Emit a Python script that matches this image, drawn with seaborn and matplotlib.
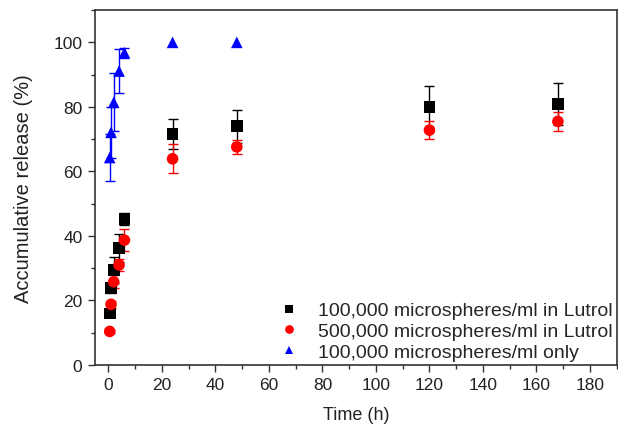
import numpy as np
import pandas as pd
import matplotlib
matplotlib.use("Agg")
import matplotlib.pyplot as plt
from matplotlib.ticker import MultipleLocator
import seaborn as sns

# Release data (time in hours, cumulative release in %, standard deviation)
time_lutrol = [0.5, 1, 2, 4, 6, 24, 48, 120, 168]
low_lutrol = [16.0, 23.8, 29.4, 36.3, 45.2, 71.6, 74.0, 80.0, 80.9]
low_lutrol_sd = [1.0, 1.5, 4.0, 4.4, 1.8, 4.8, 5.1, 6.4, 6.6]
high_lutrol = [10.4, 18.8, 25.8, 31.0, 38.7, 63.9, 67.6, 72.8, 75.5]
high_lutrol_sd = [0.5, 1.0, 2.0, 2.0, 3.4, 4.5, 2.2, 2.7, 3.0]

time_only = [0.5, 1, 2, 4, 6, 24, 48]
only_release = [64.3, 72.1, 81.4, 91.1, 96.8, 100.0, 100.0]
only_sd = [7.2, 8.0, 9.0, 6.7, 1.5, 0.0, 0.0]

labels = ["100,000 microspheres/ml in Lutrol",
          "500,000 microspheres/ml in Lutrol",
          "100,000 microspheres/ml only"]
colors = ["#000000", "#ff0000", "#0000ff"]
markers = ["s", "o", "^"]

df = pd.concat([
    pd.DataFrame({"time": time_lutrol, "release": low_lutrol, "sd": low_lutrol_sd, "group": labels[0]}),
    pd.DataFrame({"time": time_lutrol, "release": high_lutrol, "sd": high_lutrol_sd, "group": labels[1]}),
    pd.DataFrame({"time": time_only, "release": only_release, "sd": only_sd, "group": labels[2]}),
], ignore_index=True)

sns.set_theme(style="ticks")
plt.rcParams["font.family"] = ["Liberation Sans", "DejaVu Sans"]

fig = plt.figure(figsize=(6.18, 4.27), dpi=100)
ax = fig.add_axes([0.1537, 0.1429, 0.8443, 0.8311])

for i, (lab, col) in enumerate(zip(labels, colors)):
    sub = df[(df["group"] == lab) & (df["sd"] > 0)]
    ax.errorbar(sub["time"], sub["release"], yerr=sub["sd"], fmt="none",
                ecolor=col, elinewidth=1.0, capsize=3.5, capthick=1.0,
                zorder=2 + i)

sns.scatterplot(data=df, x="time", y="release", hue="group", style="group",
                hue_order=labels, style_order=labels,
                palette=dict(zip(labels, colors)),
                markers=dict(zip(labels, markers)),
                s=70, edgecolor="none", linewidth=0, ax=ax, zorder=6,
                legend=True)

handles, _ = ax.get_legend_handles_labels()
leg = ax.legend(handles[-3:], labels, loc="lower right", frameon=False,
                fontsize=14, handletextpad=1.0, labelspacing=0.16,
                borderaxespad=0.0, borderpad=0.1, bbox_to_anchor=(0.995, 0.006),
                markerscale=0.75, handlelength=0.9)

ax.set_xlim(-5, 190)
ax.set_ylim(0, 110)
ax.xaxis.set_major_locator(MultipleLocator(20))
ax.xaxis.set_minor_locator(MultipleLocator(10))
ax.yaxis.set_major_locator(MultipleLocator(20))
ax.yaxis.set_minor_locator(MultipleLocator(10))
ax.tick_params(which="major", direction="out", length=5, width=1.0,
               labelsize=12.5, colors="#333333", labelcolor="#222222", pad=4)
ax.tick_params(which="minor", direction="out", length=3, width=1.0,
               colors="#333333")

for side in ["left", "right", "top", "bottom"]:
    ax.spines[side].set_visible(True)
    ax.spines[side].set_color("#333333")
    ax.spines[side].set_linewidth(1.2)

ax.set_xlabel("Time (h)", fontsize=13, color="#222222", labelpad=10)
ax.set_ylabel("Accumulative release (%)", fontsize=14.5, color="#222222", labelpad=15)

fig.savefig("out.png", dpi=100)
